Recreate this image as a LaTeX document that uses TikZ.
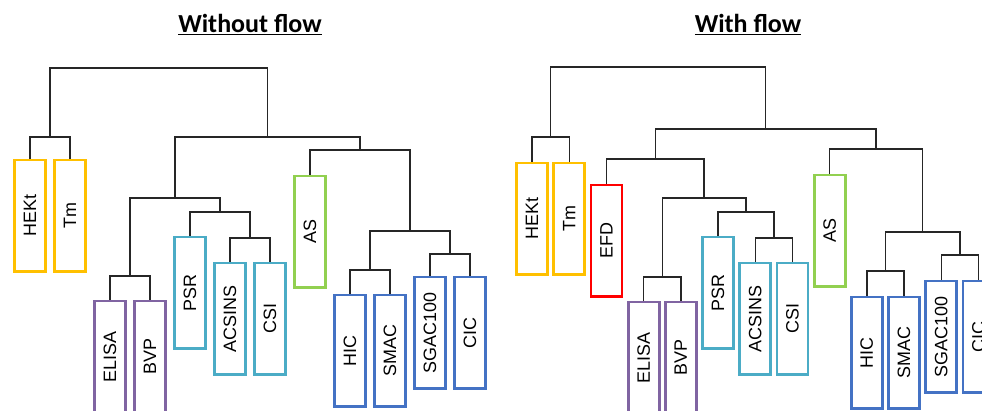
\documentclass[tikz,border=0pt]{standalone}
\usepackage{fontspec}
\setmainfont{Liberation Sans}
\newfontfamily\headfont{Carlito}
\usetikzlibrary{calc}

\definecolor{cYellow}{HTML}{FFC000}
\definecolor{cPurple}{HTML}{8064A2}
\definecolor{cCyan}{HTML}{4BACC6}
\definecolor{cBlue}{HTML}{4472C4}
\definecolor{cGreen}{HTML}{92D050}
\definecolor{cRed}{HTML}{FF0000}

\tikzset{
	leaf/.style={draw=#1, line width=1.6pt, minimum width=0.62cm, minimum height=2.24cm, inner sep=0pt, anchor=north, font=\fontsize{10.2}{12}\selectfont},
	link/.style={line width=0.8pt, draw=black!85},
	heading/.style={font=\headfont\bfseries\fontsize{14.8}{17}\selectfont, anchor=base}
}

\begin{document}
\begin{tikzpicture}[x=0.02cm, y=-0.02cm]
			%%%%% START %%%%%
			\useasboundingbox (0, 0) rectangle (982, 410);
			\clip (0, 0) rectangle (982, 410);
			
			\node[heading] (tleft) at (250, 32) {\underline{Without flow}};
			\node[heading] (tright) at (748, 32) {\underline{With flow}};
			
			%%%%% without flow %%%%%
			\node[leaf=cYellow] (lhekt) at (30, 158.5) {\rotatebox{90}{HEKt}};
			\node[leaf=cYellow] (ltm) at (70, 158.5) {\rotatebox{90}{Tm}};
			\node[leaf=cPurple] (lelisa) at (110, 299.5) {\rotatebox{90}{ELISA}};
			\node[leaf=cPurple] (lbvp) at (150, 299.5) {\rotatebox{90}{BVP}};
			\node[leaf=cCyan] (lpsr) at (190, 235.5) {\rotatebox{90}{PSR}};
			\node[leaf=cCyan] (lacsins) at (230, 261.5) {\rotatebox{90}{ACSINS}};
			\node[leaf=cCyan] (lcsi) at (270, 261.5) {\rotatebox{90}{CSI}};
			\node[leaf=cGreen] (las) at (310, 174.5) {\rotatebox{90}{AS}};
			\node[leaf=cBlue] (lhic) at (350, 293.5) {\rotatebox{90}{HIC}};
			\node[leaf=cBlue] (lsmac) at (390, 293.5) {\rotatebox{90}{SMAC}};
			\node[leaf=cBlue] (lsgac) at (430, 275.5) {\rotatebox{90}{SGAC100}};
			\node[leaf=cBlue] (lcic) at (470, 275.5) {\rotatebox{90}{CIC}};
			
			\coordinate (l1) at (50, 137);
			\coordinate (l2) at (130, 276);
			\coordinate (l3) at (250, 238);
			\coordinate (l4) at (220, 212);
			\coordinate (l5) at (175, 198);
			\coordinate (l6) at (370, 270);
			\coordinate (l7) at (450, 254);
			\coordinate (l8) at (410, 231);
			\coordinate (l9) at (360, 150);
			\coordinate (l10) at (267.5, 137);
			\coordinate (l11) at (158.75, 68);
			
			\draw[link] (lhekt.north) |- (l1) -| (ltm.north);
			\draw[link] (lelisa.north) |- (l2) -| (lbvp.north);
			\draw[link] (lacsins.north) |- (l3) -| (lcsi.north);
			\draw[link] (lpsr.north) |- (l4) -| (l3);
			\draw[link] (l2) |- (l5) -| (l4);
			\draw[link] (lhic.north) |- (l6) -| (lsmac.north);
			\draw[link] (lsgac.north) |- (l7) -| (lcic.north);
			\draw[link] (l6) |- (l8) -| (l7);
			\draw[link] (las.north) |- (l9) -| (l8);
			\draw[link] (l5) |- (l10) -| (l9);
			\draw[link] (l1) |- (l11) -| (l10);
			
			%%%%% with flow %%%%%
			\node[leaf=cYellow] (rhekt) at (532, 161.5) {\rotatebox{90}{HEKt}};
			\node[leaf=cYellow] (rtm) at (569.2, 161.5) {\rotatebox{90}{Tm}};
			\node[leaf=cRed] (refd) at (606.4, 183.5) {\rotatebox{90}{EFD}};
			\node[leaf=cPurple] (relisa) at (643.6, 300.5) {\rotatebox{90}{ELISA}};
			\node[leaf=cPurple] (rbvp) at (680.8, 300.5) {\rotatebox{90}{BVP}};
			\node[leaf=cCyan] (rpsr) at (718, 235.5) {\rotatebox{90}{PSR}};
			\node[leaf=cCyan] (racsins) at (755.2, 261.5) {\rotatebox{90}{ACSINS}};
			\node[leaf=cCyan] (rcsi) at (792.4, 261.5) {\rotatebox{90}{CSI}};
			\node[leaf=cGreen] (ras) at (829.6, 173.5) {\rotatebox{90}{AS}};
			\node[leaf=cBlue] (rhic) at (866.8, 295.5) {\rotatebox{90}{HIC}};
			\node[leaf=cBlue] (rsmac) at (904, 295.5) {\rotatebox{90}{SMAC}};
			\node[leaf=cBlue] (rsgac) at (941.2, 279.5) {\rotatebox{90}{SGAC100}};
			\node[leaf=cBlue] (rcic) at (978.4, 279.5) {\rotatebox{90}{CIC}};
			
			\coordinate (r1) at (550.6, 137);
			\coordinate (r2) at (662.2, 277);
			\coordinate (r3) at (773.8, 238);
			\coordinate (r4) at (745.9, 212);
			\coordinate (r5) at (704.05, 198);
			\coordinate (r6) at (655.2, 159);
			\coordinate (r7) at (885.4, 271);
			\coordinate (r8) at (959.8, 255);
			\coordinate (r9) at (922.6, 232);
			\coordinate (r10) at (876.1, 149);
			\coordinate (r11) at (765.65, 129);
			\coordinate (r12) at (658.1, 67);
			
			\draw[link] (rhekt.north) |- (r1) -| (rtm.north);
			\draw[link] (relisa.north) |- (r2) -| (rbvp.north);
			\draw[link] (racsins.north) |- (r3) -| (rcsi.north);
			\draw[link] (rpsr.north) |- (r4) -| (r3);
			\draw[link] (r2) |- (r5) -| (r4);
			\draw[link] (refd.north) |- (r6) -| (r5);
			\draw[link] (rhic.north) |- (r7) -| (rsmac.north);
			\draw[link] (rsgac.north) |- (r8) -| (rcic.north);
			\draw[link] (r7) |- (r9) -| (r8);
			\draw[link] (ras.north) |- (r10) -| (r9);
			\draw[link] (r6) |- (r11) -| (r10);
			\draw[link] (r1) |- (r12) -| (r11);
			
			%%%%% END %%%%%
\end{tikzpicture}
\end{document}
